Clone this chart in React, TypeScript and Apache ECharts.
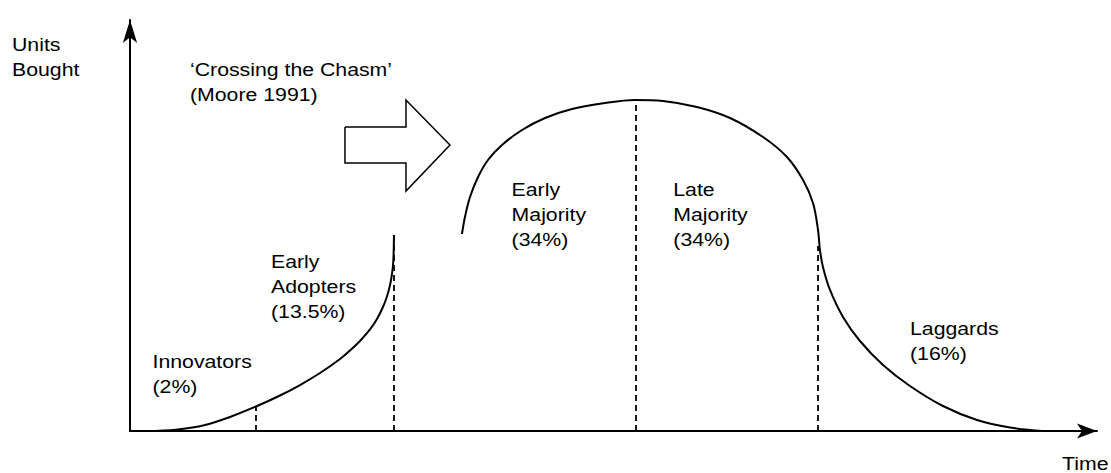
import React, { useEffect, useRef } from "react";
import * as echarts from "echarts";

// Curve before the chasm (Innovators + Early Adopters)
const earlyX = [
  2.59, 5.17, 7.76, 10.34, 13.03, 15.51, 17.58, 19.65, 21.72, 22.75, 23.78,
  24.82, 25.54, 26.16, 26.58, 26.89, 27.09, 27.2, 27.26, 27.3,
];
const earlyY = [
  0, 0.44, 1.46, 3.41, 5.96, 8.64, 11.19, 14.11, 17.52, 19.56, 21.9,
  24.7, 27.25, 30.17, 32.8, 35.5, 38.17, 40.39, 43.07, 47.69,
];

// Curve after the chasm (Early Majority, Late Majority, Laggards)
const mainX = [
  34.33, 34.64, 35.16, 35.99, 37.02, 38.47, 40.54, 42.92, 45.71, 49.12, 52.22,
  55.12, 58.63, 62.05, 65.46, 67.94, 69.6, 70.63, 71.15, 71.35, 71.66, 72.39,
  73.73, 75.49, 77.87, 80.66, 84.07, 87.59, 91.0, 94.42,
];
const mainY = [
  47.93, 52.07, 56.93, 61.8, 65.94, 69.59, 73.24, 76.16, 78.35, 79.81, 80.54,
  80.29, 78.83, 76.16, 71.53, 66.67, 61.07, 55.47, 48.91, 44.04, 39.9, 34.31,
  27.74, 21.9, 16.06, 10.95, 6.08, 2.68, 0.85, 0,
];

// Segment boundaries (dashed verticals)
const dividerX = [13.03, 27.3, 52.33, 71.15];
const dividerTop = [5.96, 47.69, 80.54, 45.0];

// Block arrow outline ("crossing the chasm")
const chasmArrowX = [22.23, 28.54, 28.54, 33.09, 28.54, 28.54, 22.23, 22.23];
const chasmArrowY = [73.97, 73.97, 80.54, 69.59, 58.39, 65.21, 65.21, 73.97];

// Texts
const segmentLabels = [
  "Innovators\n(2%)",
  "Early\nAdopters\n(13.5%)",
  "Early\nMajority\n(34%)",
  "Late\nMajority\n(34%)",
  "Laggards\n(16%)",
];
const annotationLabel = "\u2018Crossing the Chasm\u2019\n(Moore 1991)";
const yAxisTitle = "Units\nBought";
const xAxisTitle = "Time";

// Layout (pixel positions of text blocks)
const segmentLabelPos = [
  [152.5, 348.8],
  [271, 248.6],
  [511.6, 177.4],
  [673.3, 177.1],
  [910, 316],
];
const annotationPos = [190, 56.8];
const yTitlePos = [12, 32];
const xTitlePos = [1062, 450.6];

const FONT = '18.5px "Liberation Sans", Arial, Helvetica, sans-serif';
const TEXT_SCALE_X = 1.15;

function textEl(text: string, pos: number[]) {
  return {
    type: "text",
    x: pos[0],
    y: pos[1],
    scaleX: TEXT_SCALE_X,
    style: {
      text,
      x: 0,
      y: 0,
      font: FONT,
      fill: "#000",
      lineHeight: 25,
      verticalAlign: "top",
      align: "left",
    },
  };
}

export default function App() {
  const ref = useRef<HTMLDivElement>(null);

  useEffect(() => {
    document.body.style.margin = "0";
    if (!ref.current) return;
    const chart = echarts.init(ref.current, undefined, { renderer: "svg" });

    const zip = (xs: number[], ys: number[]) => xs.map((x, i) => [x, ys[i]]);

    const dividerSeries = dividerX.map((x, i) => ({
      type: "line",
      data: [
        [x, 0],
        [x, dividerTop[i]],
      ],
      symbol: "none",
      silent: true,
      lineStyle: { color: "#000", width: 1.8, type: [6, 4] },
    }));

    chart.setOption({
      animation: false,
      backgroundColor: "#fff",
      grid: { left: 130, right: 14, top: 20, bottom: 42, containLabel: false },
      xAxis: {
        type: "value",
        min: 0,
        max: 100,
        axisLine: {
          show: true,
          symbol: ["none", "arrow"],
          symbolSize: [11.25, 20],
          lineStyle: { color: "#000", width: 2 },
        },
        axisTick: { show: false },
        axisLabel: { show: false },
        splitLine: { show: false },
      },
      yAxis: {
        type: "value",
        min: 0,
        max: 100,
        axisLine: {
          show: true,
          symbol: ["none", "arrow"],
          symbolSize: [10.7, 23],
          lineStyle: { color: "#000", width: 2 },
        },
        axisTick: { show: false },
        axisLabel: { show: false },
        splitLine: { show: false },
      },
      series: [
        {
          type: "line",
          data: zip(earlyX, earlyY),
          symbol: "none",
          smooth: 0.3,
          lineStyle: { color: "#000", width: 2 },
        },
        {
          type: "line",
          data: zip(mainX, mainY),
          symbol: "none",
          smooth: 0.35,
          lineStyle: { color: "#000", width: 2 },
        },
        ...dividerSeries,
        {
          type: "line",
          data: zip(chasmArrowX, chasmArrowY),
          symbol: "none",
          smooth: false,
          lineStyle: { color: "#000", width: 1.5, join: "miter" },
        },
      ],
      graphic: [
        textEl(yAxisTitle, yTitlePos),
        textEl(annotationLabel, annotationPos),
        ...segmentLabels.map((t, i) => textEl(t, segmentLabelPos[i])),
        textEl(xAxisTitle, xTitlePos),
      ],
    });

    return () => chart.dispose();
  }, []);

  return <div ref={ref} style={{ width: 1111, height: 473 }} />;
}
